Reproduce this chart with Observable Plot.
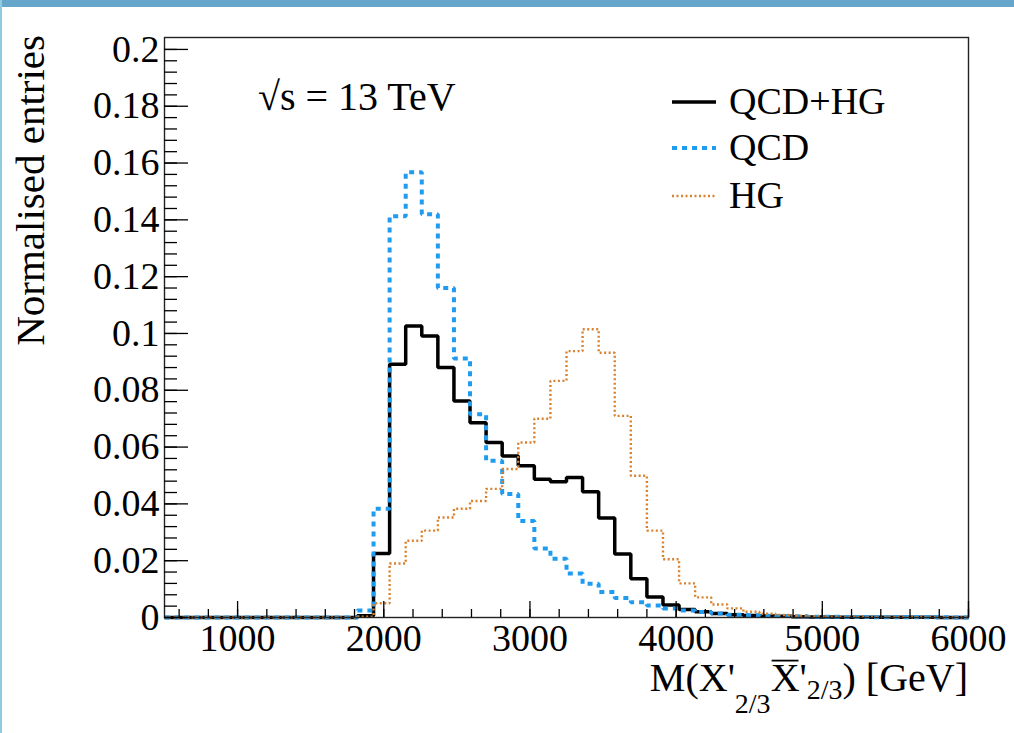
<!DOCTYPE html>
<html>
<head>
<meta charset="utf-8">
<script src="https://cdn.jsdelivr.net/npm/d3@7"></script>
<script src="https://cdn.jsdelivr.net/npm/@observablehq/plot@0.6"></script>
<style>
  html, body { margin: 0; padding: 0; background: #fff; }
  #wrap { position: relative; width: 1014px; height: 733px; overflow: hidden; background: #fff; }
  #wrap svg { position: absolute; left: 0; top: 0; }
  #band { position: absolute; left: 0; top: 0; width: 1014px; height: 7px; background: #66a6cb; }
  #edge { position: absolute; left: 0; top: 0; width: 2px; height: 733px; background: #8fcbe0; }
</style>
</head>
<body>
<div id="wrap"></div>
<script>
// Histogram binning: 50 bins of 110 GeV between 500 and 6000 GeV
const binLow = 500;
const binWidth = 110;

// Normalised bin contents, one entry per bin
const qcdHg = [
  0, 0, 0, 0, 0, 0, 0, 0, 0, 0,
  0, 0, 0.0006, 0.0225, 0.0892, 0.1026, 0.0991, 0.0880, 0.0762, 0.0686,
  0.0616, 0.0569, 0.0534, 0.0487, 0.0478, 0.0493, 0.0443, 0.0350, 0.0224, 0.0136,
  0.0072, 0.0044, 0.0028, 0.0020, 0.0014, 0.0010, 0.0007, 0.0005, 0.0004, 0.0003,
  0.0002, 0.0002, 0.0001, 0.0001, 0.0001, 0.0001, 0.0001, 0.0001, 0, 0
];
const qcd = [
  0, 0, 0, 0, 0, 0, 0, 0, 0, 0,
  0, 0, 0.0025, 0.0383, 0.1413, 0.1568, 0.1420, 0.1160, 0.0912, 0.0716,
  0.0552, 0.0435, 0.0340, 0.0243, 0.0207, 0.0155, 0.0119, 0.0090, 0.0069, 0.0054,
  0.0042, 0.0032, 0.0025, 0.0019, 0.0014, 0.0010, 0.0008, 0.0006, 0.0005, 0.0004,
  0.0003, 0.0003, 0.0002, 0.0002, 0.0001, 0.0001, 0.0001, 0.0001, 0.0001, 0
];
const hg = [
  0, 0, 0, 0, 0, 0, 0, 0, 0, 0,
  0, 0, 0.0003, 0.0050, 0.0190, 0.0270, 0.0306, 0.0352, 0.0383, 0.0410,
  0.0453, 0.0523, 0.0616, 0.0700, 0.0833, 0.0938, 0.1015, 0.0932, 0.0710, 0.0499,
  0.0306, 0.0205, 0.0120, 0.0071, 0.0046, 0.0032, 0.0020, 0.0013, 0.0009, 0.0006,
  0.0004, 0.0003, 0.0002, 0.0002, 0.0002, 0.0001, 0.0001, 0.0001, 0.0001, 0
];

const seriesNames = ["QCD+HG", "QCD", "HG"];

// Axis ticks
const xMajor = [1000, 2000, 3000, 4000, 5000, 6000];
const xMinor = d3.range(600, 6001, 200);
const yMajor = [0, 0.02, 0.04, 0.06, 0.08, 0.1, 0.12, 0.14, 0.16, 0.18, 0.2];
const yMinor = d3.range(0, 0.2001, 0.004);

const xDomain = [500, 6000];
const yDomain = [0, 0.2042];

// Line styles of the three histograms
const styles = {
  "QCD+HG": { stroke: "#000000", strokeWidth: 3.5, strokeDasharray: null },
  "QCD":    { stroke: "#1f9cf0", strokeWidth: 4,   strokeDasharray: "5,5" },
  "HG":     { stroke: "#d8822f", strokeWidth: 2.4, strokeDasharray: "2,2.5" }
};

// Outline of a histogram: one point per bin low edge plus the upper edge of the last bin
function outline(values) {
  const pts = values.map((v, i) => ({ x: binLow + i * binWidth, y: v }));
  pts.push({ x: binLow + values.length * binWidth, y: values[values.length - 1] });
  return pts;
}

const W = 1014, H = 733;
const mL = 164, mR = 46, mT = 37, mB = 116;
const plotW = W - mL - mR, plotH = H - mT - mB;
const serif = "'Liberation Serif', 'Times New Roman', serif";

const histMark = (name, values) => Plot.line(outline(values), {
  x: "x", y: "y", curve: "step-after",
  stroke: styles[name].stroke,
  strokeWidth: styles[name].strokeWidth,
  strokeDasharray: styles[name].strokeDasharray,
  strokeLinecap: "butt", strokeLinejoin: "miter"
});

const chart = Plot.plot({
  width: W, height: H,
  marginLeft: mL, marginRight: mR, marginTop: mT, marginBottom: mB,
  x: { domain: xDomain },
  y: { domain: yDomain },
  style: { fontFamily: serif, fontSize: "38px", background: "transparent", color: "#000", overflow: "visible" },
  marks: [
    histMark("QCD+HG", qcdHg),
    histMark("QCD", qcd),
    histMark("HG", hg),
    Plot.frame({ stroke: "#222", strokeWidth: 1.4 }),
    // inward ticks on the left and bottom edges
    Plot.tickY(yMinor, { stroke: "#000", strokeWidth: 1.3, insetRight: plotW - 13 }),
    Plot.tickY(yMajor, { stroke: "#000", strokeWidth: 1.3, insetRight: plotW - 24 }),
    Plot.tickX(xMinor, { stroke: "#000", strokeWidth: 1.3, insetTop: plotH - 8 }),
    Plot.tickX(xMajor, { stroke: "#000", strokeWidth: 1.3, insetTop: plotH - 16 }),
    Plot.axisY(yMajor, {
      tickSize: 0, tickPadding: 5, label: null,
      tickFormat: d => d === 0 ? "0" : d3.format(".2~f")(d)
    }),
    Plot.axisX(xMajor, {
      tickSize: 0, tickPadding: 7, label: null,
      tickFormat: d3.format("d")
    })
  ]
});

const wrap = document.getElementById("wrap");
wrap.appendChild(chart);
const band = document.createElement("div"); band.id = "band"; wrap.appendChild(band);
const edge = document.createElement("div"); edge.id = "edge"; wrap.appendChild(edge);

const svg = d3.select(chart);
const notes = svg.append("g")
  .attr("font-family", serif)
  .attr("text-anchor", "start")
  .attr("fill", "#000");

// Y-axis title, right-aligned to the top of the axis
notes.append("text")
  .attr("transform", "translate(44,35) rotate(-90)")
  .attr("text-anchor", "end")
  .attr("font-size", 41)
  .text("Normalised entries");

// X-axis title with subscripts, right-aligned to the end of the axis
const titleSize = 40, titleBase = 691;
const xt = notes.append("text")
  .attr("x", 968).attr("y", titleBase)
  .attr("text-anchor", "end")
  .attr("font-size", titleSize);
xt.append("tspan").text("M(X'");
xt.append("tspan").attr("font-size", 28).attr("dy", 22).text("2/3");
xt.append("tspan").attr("dy", -22).text("X'");
xt.append("tspan").attr("font-size", 28).attr("dy", 8).text("2/3");
xt.append("tspan").attr("dy", -8).text(") [GeV]");

// Bar over the antiparticle symbol (8th character of the title)
const barBox = xt.node().getExtentOfChar(7);
notes.append("line")
  .attr("x1", barBox.x + 1).attr("x2", barBox.x + barBox.width - 1)
  .attr("y1", titleBase - 0.66 * titleSize - 4)
  .attr("y2", titleBase - 0.66 * titleSize - 4)
  .attr("stroke", "#000").attr("stroke-width", 1.8);

// Energy label
notes.append("text")
  .attr("x", 258).attr("y", 110)
  .attr("font-size", 40)
  .text("\u221As = 13 TeV");

// Legend
const legendRows = [102, 148, 196];
seriesNames.forEach((name, i) => {
  const s = styles[name];
  notes.append("line")
    .attr("x1", 672).attr("x2", 716)
    .attr("y1", legendRows[i]).attr("y2", legendRows[i])
    .attr("stroke", s.stroke)
    .attr("stroke-width", s.strokeWidth)
    .attr("stroke-dasharray", s.strokeDasharray);
  notes.append("text")
    .attr("x", 729).attr("y", legendRows[i] + 12)
    .attr("font-size", 38)
    .text(name);
});
</script>
</body>
</html>
